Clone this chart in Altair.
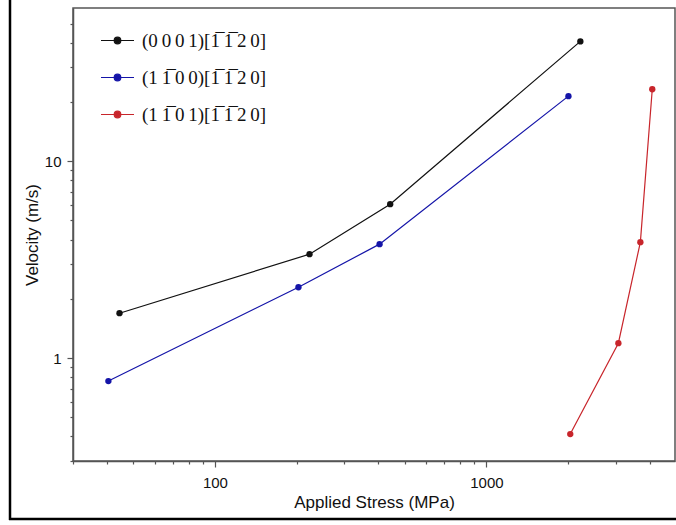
import altair as alt
import pandas as pd

series = [
    "(0\u20090\u20090\u20091)[1\u0305\u20091\u0305\u20092\u20090]",
    "(1\u20091\u0305\u20090\u20090)[1\u0305\u20091\u0305\u20092\u20090]",
    "(1\u20091\u0305\u20090\u20091)[1\u0305\u20091\u0305\u20092\u20090]",
]
colors = ["#111111", "#1414a8", "#c8252b"]

black_x = [44.5, 223, 442, 2218]
black_y = [1.69, 3.37, 6.05, 40.6]
blue_x = [40.5, 203, 404, 2005]
blue_y = [0.764, 2.29, 3.79, 21.4]
red_x = [2036, 3062, 3690, 4082]
red_y = [0.411, 1.19, 3.88, 23.2]

x_ticks = [30, 40, 50, 60, 70, 80, 90, 100, 200, 300, 400, 500, 600, 700, 800, 900,
           1000, 2000, 3000, 4000]
y_ticks = [0.3, 0.4, 0.5, 0.6, 0.7, 0.8, 0.9, 1, 2, 3, 4, 5, 6, 7, 8, 9, 10,
           20, 30, 40, 50]
major_expr = "indexof([1, 10, 100, 1000], datum.value) >= 0"

rows = []
for name, xs, ys in zip(series, [black_x, blue_x, red_x], [black_y, blue_y, red_y]):
    for i, (xv, yv) in enumerate(zip(xs, ys)):
        rows.append({"series": name, "stress": xv, "velocity": yv, "idx": i})
df = pd.DataFrame(rows)

xscale = alt.Scale(type="log", domain=[30, 4950], nice=False)
yscale = alt.Scale(type="log", domain=[0.3, 60], nice=False)

sym_path = "M-1,0L1,0M-0.2,0A0.2,0.2,0,1,1,0.2,0A0.2,0.2,0,1,1,-0.2,0Z"
legend = alt.Legend(
    title=None, orient="none", legendX=27, legendY=15,
    symbolType=sym_path, symbolSize=1089, symbolStrokeWidth=1.2,
    labelFont="Liberation Serif", labelFontSize=19, labelColor="#111",
    labelOffset=7, rowPadding=9, padding=0,
)
color = alt.Color("series:N", scale=alt.Scale(domain=series, range=colors), legend=legend)

tick_size = {"condition": {"test": major_expr, "value": 6}, "value": 3}
label_expr = major_expr + " ? datum.label : ''"

x_main = alt.X("stress:Q", scale=xscale, axis=alt.Axis(
    values=x_ticks, format="d", labelExpr=label_expr, labelOverlap=False,
    tickSize=tick_size, labelPadding=8, grid=False,
    title="Applied Stress (MPa)", titleFontSize=17, titleFontWeight="normal",
    titlePadding=4))
y_main = alt.Y("velocity:Q", scale=yscale, axis=alt.Axis(
    values=y_ticks, format="d", labelExpr=label_expr, labelOverlap=False,
    tickSize=tick_size, labelPadding=6, grid=False,
    title="Velocity (m/s)", titleFontSize=17, titleFontWeight="normal",
    titlePadding=3))

base = alt.Chart(df)
lines = base.mark_line(strokeWidth=1.2).encode(
    x=x_main, y=y_main, color=color, order="idx:O")
points = base.mark_circle(size=40, opacity=1).encode(
    x="stress:Q", y="velocity:Q", color=color)

border_v = alt.Chart(pd.DataFrame({"a": [0]})).mark_rule(color="black", strokeWidth=2.5).encode(
    x=alt.value(-63), y=alt.value(-10), y2=alt.value(512))
border_h = alt.Chart(pd.DataFrame({"a": [0]})).mark_rule(color="black", strokeWidth=2.5).encode(
    x=alt.value(-64), x2=alt.value(610), y=alt.value(511))

chart = alt.layer(lines, points, border_v, border_h).properties(
    width=602, height=453,
    autosize=alt.AutoSizeParams(type="none"),
    padding={"left": 73, "top": 8, "right": 1, "bottom": 64},
    background="white",
).configure_view(
    stroke="#555", strokeWidth=1.5
).configure_axis(
    labelFont="Liberation Sans", titleFont="Liberation Sans",
    labelFontSize=15, labelColor="#111", titleColor="#111",
    domainColor="#555", tickColor="#555", domainWidth=1.5, tickWidth=1.2,
)

chart.save("out.html", embed_options={"renderer": "svg", "actions": False})
